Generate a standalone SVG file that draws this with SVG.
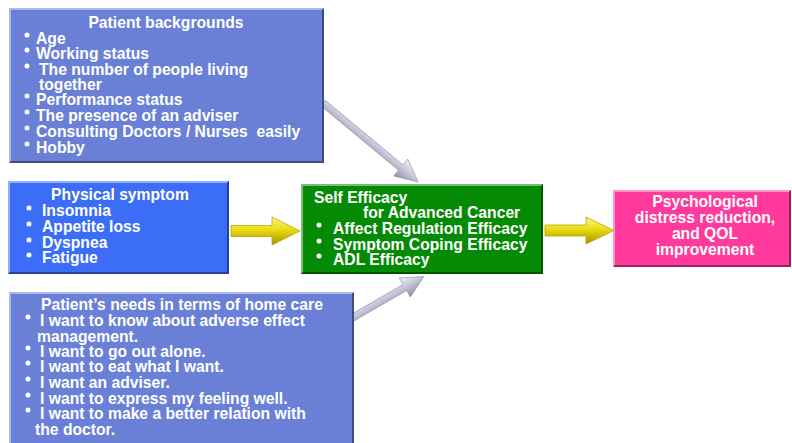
<svg xmlns="http://www.w3.org/2000/svg" width="792" height="443" viewBox="0 0 792 443">
<defs>
<linearGradient id="gy" x1="0" y1="0" x2="0" y2="1">
<stop offset="0" stop-color="#fff68a"/><stop offset="0.45" stop-color="#ecdc10"/><stop offset="1" stop-color="#a39400"/>
</linearGradient>
<linearGradient id="gg" x1="0" y1="0" x2="0" y2="1">
<stop offset="0" stop-color="#f2f2f8"/><stop offset="0.5" stop-color="#c4c4d6"/><stop offset="1" stop-color="#8c8ca6"/>
</linearGradient>
</defs>
<style>
text{font-family:"Liberation Sans",Arial,sans-serif;font-weight:bold;font-size:15.7px;fill:#ffffff;white-space:pre}
.c{text-anchor:middle}
.hl{fill:none;stroke:#ffffff;stroke-opacity:0.45;stroke-width:2}
.sh{fill:none;stroke:#000000;stroke-opacity:0.4;stroke-width:2}
.b{fill:#ffffff}
.ya{fill:url(#gy);stroke:#b8a800;stroke-width:0.8}
.ga{fill:url(#gg);stroke:#8a8aa2;stroke-width:0.6}
</style>
<rect width="792" height="443" fill="#ffffff"/>

<g id="connectors">
<path class="ya" d="M231,225.5 L272,225.5 L272,217 L300,231 L272,245 L272,236.5 L231,236.5 Z"/>
<path class="ya" d="M545,225 L586,225 L586,217 L614,230.5 L586,244 L586,236 L545,236 Z"/>
<g transform="translate(323,103) rotate(39.7)"><path class="ga" d="M0,-3.5 L101,-3.5 L101,-11 L123.5,0 L101,11 L101,3.5 L0,3.5 Z"/></g>
<g transform="translate(352,318) rotate(-30)"><path class="ga" d="M0,-3.5 L61,-3.5 L61,-11 L83,0 L61,11 L61,3.5 L0,3.5 Z"/></g>
</g>

<g id="patient-backgrounds">
<rect x="9" y="8" width="315" height="155" fill="#6a7fd6"/>
<path class="hl" d="M10,162 L10,9 L323,9"/>
<path class="sh" d="M323,9 L323,162 L10,162"/>
<text class="c" x="166" y="28">Patient backgrounds</text>
<circle class="b" cx="27" cy="35" r="2.5"/><text x="36" y="44">Age</text>
<circle class="b" cx="27" cy="50" r="2.5"/><text x="36" y="59">Working status</text>
<circle class="b" cx="27" cy="66" r="2.5"/><text x="39" y="75">The number of people living</text>
<text x="39" y="90">together</text>
<circle class="b" cx="27" cy="96" r="2.5"/><text x="36" y="105">Performance status</text>
<circle class="b" cx="27" cy="112" r="2.5"/><text x="36" y="121">The presence of an adviser</text>
<circle class="b" cx="27" cy="128" r="2.5"/><text x="36" y="137">Consulting Doctors / Nurses  easily</text>
<circle class="b" cx="27" cy="144" r="2.5"/><text x="36" y="153">Hobby</text>
</g>

<g id="physical-symptom">
<rect x="8" y="181" width="221" height="93" fill="#3c6df6"/>
<path class="hl" d="M9,273 L9,182 L228,182"/>
<path class="sh" d="M228,182 L228,273 L9,273"/>
<text class="c" x="120" y="200">Physical symptom</text>
<circle class="b" cx="29" cy="208" r="2.5"/><text x="42" y="216">Insomnia</text>
<circle class="b" cx="29" cy="224" r="2.5"/><text x="42" y="232">Appetite loss</text>
<circle class="b" cx="29" cy="240" r="2.5"/><text x="42" y="248">Dyspnea</text>
<circle class="b" cx="29" cy="255" r="2.5"/><text x="42" y="263">Fatigue</text>
</g>

<g id="home-care-needs">
<rect x="9" y="292" width="345" height="160" fill="#6a7fd6"/>
<path class="hl" d="M10,452 L10,293 L353,293"/>
<path class="sh" d="M353,293 L353,452"/>
<text x="41" y="310">Patient’s needs in terms of home care</text>
<circle class="b" cx="28" cy="317" r="2.5"/><text x="40" y="326">I want to know about adverse effect</text>
<text x="37" y="342">management.</text>
<circle class="b" cx="28" cy="348" r="2.5"/><text x="40" y="357">I want to go out alone.</text>
<circle class="b" cx="28" cy="363" r="2.5"/><text x="40" y="372">I want to eat what I want.</text>
<circle class="b" cx="28" cy="379" r="2.5"/><text x="40" y="388">I want an adviser.</text>
<circle class="b" cx="28" cy="395" r="2.5"/><text x="40" y="404">I want to express my feeling well.</text>
<circle class="b" cx="28" cy="410" r="2.5"/><text x="40" y="419">I want to make a better relation with</text>
<text x="35" y="435">the doctor.</text>
</g>

<g id="self-efficacy">
<rect x="301" y="184" width="242" height="90" fill="#058a05"/>
<path class="hl" d="M302,273 L302,185 L542,185"/>
<path class="sh" d="M542,185 L542,273 L302,273"/>
<text x="314" y="203">Self Efficacy</text>
<text x="363" y="218">for Advanced Cancer</text>
<circle class="b" cx="319" cy="225" r="2.5"/><text x="333" y="234">Affect Regulation Efficacy</text>
<circle class="b" cx="319" cy="241" r="2.5"/><text x="333" y="250">Symptom Coping Efficacy</text>
<circle class="b" cx="319" cy="256" r="2.5"/><text x="333" y="265">ADL Efficacy</text>
</g>

<g id="outcome">
<rect x="613" y="190" width="178" height="77" fill="#ff3a9c"/>
<path class="hl" d="M614,266 L614,191 L790,191"/>
<path class="sh" d="M790,191 L790,266 L614,266"/>
<text class="c" x="705" y="207">Psychological</text>
<text class="c" x="705" y="223">distress reduction,</text>
<text class="c" x="705" y="239">and QOL</text>
<text class="c" x="705" y="255">improvement</text>
</g>
</svg>
